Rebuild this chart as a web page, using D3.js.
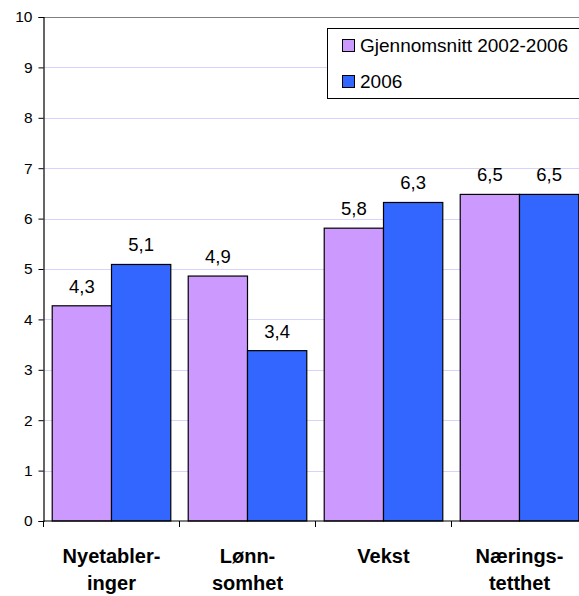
<!DOCTYPE html>
<html>
<head>
<meta charset="utf-8">
<script src="https://cdn.jsdelivr.net/npm/d3@7"></script>
<style>
  html, body { margin: 0; padding: 0; background: #fff; }
  svg { display: block; font-family: Arial, "Liberation Sans", sans-serif; }
</style>
</head>
<body>
<div id="chart"></div>
<script>
const categories = [["Nyetabler-", "inger"], ["Lønn-", "somhet"], ["Vekst"], ["Nærings-", "tetthet"]];
const categoryKeys = ["Nyetableringer", "Lønnsomhet", "Vekst", "Næringstetthet"];
const seriesNames = ["Gjennomsnitt 2002-2006", "2006"];
const avgValues = [4.27, 4.86, 5.81, 6.48];
const values2006 = [5.09, 3.38, 6.32, 6.48];
const yTicks = [0, 1, 2, 3, 4, 5, 6, 7, 8, 9, 10];
const colors = ["#cc99ff", "#3366ff"];

(function () {
const W = 579, H = 596;
const svg = d3.select("#chart").append("svg").attr("width", W).attr("height", H);

const plotLeft = 43.5, plotTop = 17, plotBottom = 521, catW = 136;
const y = d3.scaleLinear().domain([0, 10]).range([plotBottom, plotTop]);
const x0 = d3.scaleBand().domain(categoryKeys).range([plotLeft, plotLeft + catW * categoryKeys.length]).padding(0);
const x1 = d3.scaleBand().domain(seriesNames).range([0, x0.bandwidth()]).paddingInner(0).paddingOuter(0.147);

// gridlines
svg.append("g").selectAll("line").data(yTicks.filter(t => t > 0 && t < 10)).join("line")
  .attr("x1", plotLeft).attr("x2", W).attr("y1", d => Math.round(y(d)) + 0.5).attr("y2", d => Math.round(y(d)) + 0.5)
  .attr("stroke", "#d4d4ff").attr("stroke-width", 1);
// top plot border
svg.append("line").attr("x1", plotLeft).attr("x2", W).attr("y1", Math.round(y(10)) + 0.5).attr("y2", Math.round(y(10)) + 0.5)
  .attr("stroke", "#808080").attr("stroke-width", 1.2);

// bars
const data = categoryKeys.map((k, i) => ({ key: k, vals: [avgValues[i], values2006[i]] }));
const groups = svg.append("g").selectAll("g").data(data).join("g")
  .attr("transform", d => `translate(${x0(d.key)},0)`);
groups.selectAll("rect").data(d => d.vals.map((v, j) => ({ name: seriesNames[j], v, j }))).join("rect")
  .attr("x", d => x1(d.name)).attr("width", x1.bandwidth())
  .attr("y", d => y(d.v)).attr("height", d => y(0) - y(d.v))
  .attr("fill", d => colors[d.j]).attr("stroke", "#000").attr("stroke-width", 1.2);
groups.selectAll("text").data(d => d.vals.map((v, j) => ({ name: seriesNames[j], v, j }))).join("text")
  .attr("x", d => x1(d.name) + x1.bandwidth() / 2).attr("y", d => y(d.v) - 13)
  .attr("text-anchor", "middle").attr("font-size", 18.5).attr("fill", "#000")
  .text(d => d3.format(".1f")(d.v).replace(".", ","));

// y axis
const yAxis = d3.axisLeft(y).tickValues(yTicks).tickSize(5).tickPadding(6).tickFormat(d3.format("d"));
const gy = svg.append("g").attr("transform", `translate(${plotLeft},0)`).call(yAxis);
gy.select(".domain").attr("stroke", "#000").attr("stroke-width", 1.2);
gy.selectAll(".tick line").attr("stroke", "#000");
gy.selectAll(".tick text").attr("font-size", 15.5).attr("font-family", "Arial, 'Liberation Sans', sans-serif").attr("fill", "#000");

// x axis baseline and ticks at category boundaries
svg.append("line").attr("x1", plotLeft).attr("x2", W).attr("y1", y(0)).attr("y2", y(0)).attr("stroke", "#000").attr("stroke-width", 1.2);
svg.append("g").selectAll("line").data(categoryKeys).join("line")
  .attr("x1", d => x0(d)).attr("x2", d => x0(d)).attr("y1", y(0)).attr("y2", y(0) + 6)
  .attr("stroke", "#000");

// x labels
const xl = svg.append("g").selectAll("text").data(categoryKeys).join("text")
  .attr("x", d => x0(d) + x0.bandwidth() / 2).attr("y", 563)
  .attr("text-anchor", "middle").attr("font-weight", "bold").attr("font-size", 20).attr("fill", "#000");
xl.each(function(d, i) {
  const t = d3.select(this);
  categories[i].forEach((line, li) => {
    t.append("tspan").attr("x", x0(d) + x0.bandwidth() / 2).attr("dy", li === 0 ? 0 : 27).text(line);
  });
});

// legend
const lg = svg.append("g");
lg.append("rect").attr("x", 327.5).attr("y", 28.5).attr("width", 270).attr("height", 70)
  .attr("fill", "#fff").attr("stroke", "#000").attr("stroke-width", 1);
seriesNames.forEach((name, i) => {
  lg.append("rect").attr("x", 342.5).attr("y", 39.5 + i * 36).attr("width", 12).attr("height", 12)
    .attr("fill", colors[i]).attr("stroke", "#000").attr("stroke-width", 1);
  lg.append("text").attr("x", 360).attr("y", 52 + i * 35.5).attr("font-size", 19).attr("fill", "#000").text(name);
});
})();
</script>
</body>
</html>
